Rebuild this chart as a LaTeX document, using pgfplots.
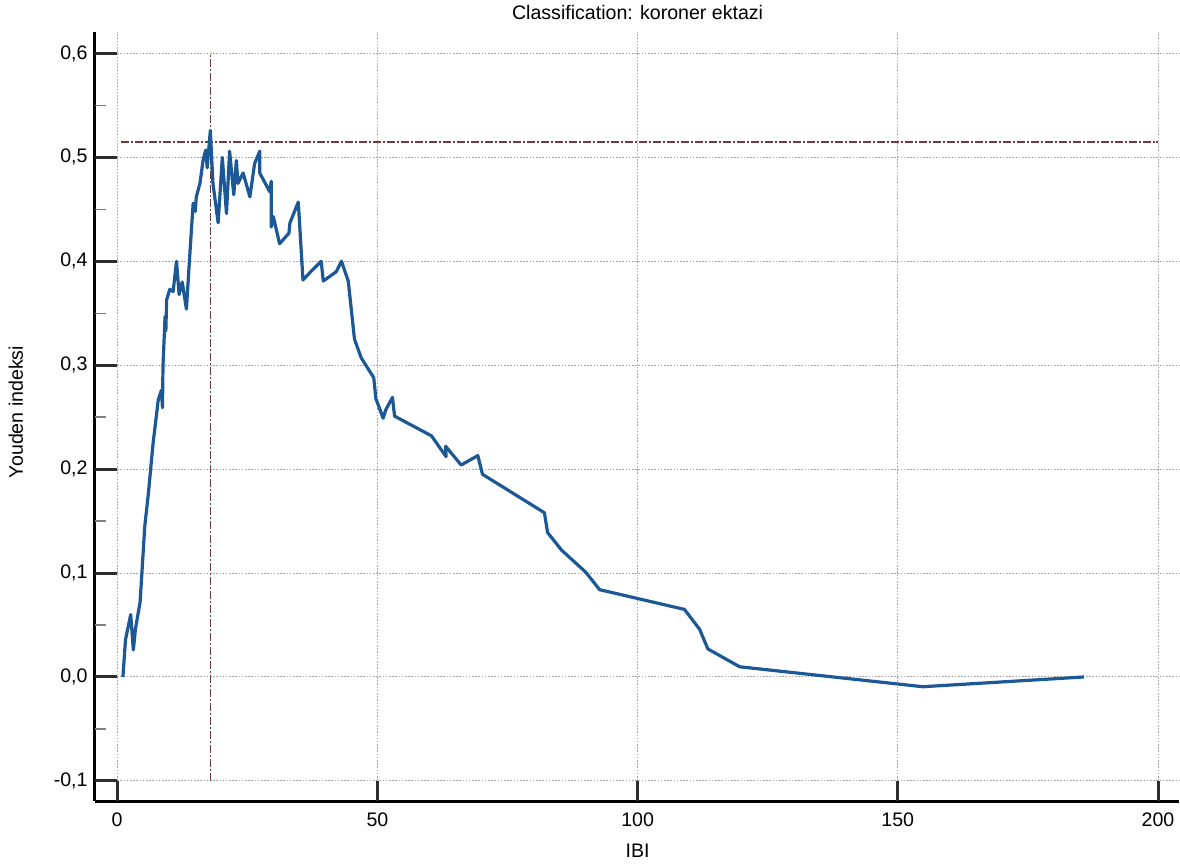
\documentclass[border=0pt]{standalone}
\usepackage{fontspec}
\setmainfont{Liberation Sans}
\usepackage{pgfplots}
\pgfplotsset{compat=1.18}
\definecolor{curve}{RGB}{28,88,150}
\definecolor{cut}{RGB}{110,60,60}
\definecolor{gridc}{RGB}{165,165,165}
\definecolor{tickc}{RGB}{45,45,45}
\begin{document}
\fontsize{9.8}{12}\selectfont
\begin{tikzpicture}
\begin{axis}[
  scale only axis, width=542.4pt, height=385pt,
  xmin=-4.28, xmax=204, ymin=-0.1194, ymax=0.621,
  axis x line*=bottom, axis y line*=left,
  axis line style={line width=1.5pt, -, black},
  xtick={0,50,100,150,200},
  ytick={-0.1,0,0.1,0.2,0.3,0.4,0.5,0.6},
  major tick length=0pt, minor tick length=0pt, tick style={draw=none},
  /pgf/number format/assume math mode=true,
  yticklabel style={/pgf/number format/.cd, use comma, fixed, fixed zerofill, precision=1, /tikz/.cd, inner sep=0pt, xshift=-3.5pt},
  xticklabel style={inner sep=0pt, yshift=-5.6pt},
  clip=false,
]
% grid
\pgfplotsinvokeforeach{0,50,100,150,200}{
  \draw[gridc, line width=0.5pt, dash pattern=on 0.8pt off 0.8pt] (axis cs:#1,-0.1) -- (axis cs:#1,0.621);
  \draw[tickc, line width=1.5pt] (axis cs:#1,-0.1194) -- (axis cs:#1,-0.1);
}
\pgfplotsinvokeforeach{-0.1,0,0.1,0.2,0.3,0.4,0.5,0.6}{
  \draw[gridc, line width=0.5pt, dash pattern=on 0.8pt off 0.8pt] (axis cs:0,#1) -- (axis cs:204,#1);
  \draw[tickc, line width=1.5pt] (axis cs:-4.28,#1) -- (axis cs:0,#1);
}
\pgfplotsinvokeforeach{-0.05,0.05,0.15,0.25,0.35,0.45,0.55}{
  \draw[gray, line width=0.7pt] (axis cs:-4.28,#1) -- (axis cs:-2.17,#1);
}
% cutoff lines
\addplot[cut, line width=0.75pt, dash pattern=on 4pt off 1pt on 1pt off 1pt] coordinates {(17.9,-0.1) (17.9,0.6)};
\addplot[cut, line width=0.75pt, dash pattern=on 4pt off 1pt on 1pt off 1pt] coordinates {(0.8,0.515) (200,0.515)};
% Youden index curve
\addplot[curve, line width=1.6pt, line join=round] coordinates {
(1.1,0) (1.6,0.036) (2.6,0.060) (3.1,0.026) (3.5,0.046) (4.4,0.072)
(5.3,0.145) (6.0,0.177) (6.9,0.225) (7.9,0.267) (8.5,0.276) (8.7,0.259)
(8.8,0.299) (9.2,0.347) (9.35,0.333) (9.5,0.363) (10.1,0.373) (10.75,0.371)
(11.4,0.400) (11.9,0.368) (12.5,0.380) (13.3,0.354) (14.0,0.410) (14.6,0.456)
(15.0,0.448) (15.2,0.462) (15.9,0.475) (16.5,0.497) (17.0,0.507) (17.3,0.490)
(17.9,0.526) (18.4,0.475) (19.4,0.437) (20.2,0.500) (21.0,0.446) (21.6,0.506)
(22.4,0.464) (22.9,0.497) (23.2,0.475) (24.2,0.485) (25.5,0.462) (26.4,0.494)
(27.4,0.506) (27.4,0.485) (29.3,0.467) (29.6,0.477) (29.6,0.433) (30.0,0.443)
(31.2,0.417) (33.0,0.427) (33.2,0.437) (34.8,0.457) (35.7,0.382) (37.0,0.389)
(39.2,0.400) (39.6,0.381) (42.1,0.390) (43.1,0.400) (44.4,0.381) (45.6,0.325)
(46.9,0.307) (49.3,0.288) (49.7,0.268) (51.1,0.249) (51.6,0.257) (52.9,0.269)
(53.3,0.251) (60.4,0.232) (63.2,0.212) (63.1,0.222) (66.1,0.204) (69.3,0.213)
(70.2,0.195) (82.1,0.158) (82.7,0.139) (85.4,0.122) (90.0,0.101) (92.7,0.084)
(109.0,0.065) (111.9,0.046) (113.5,0.027) (119.6,0.0098) (154.8,-0.0094) (185.8,0)
};
% labels
\node[anchor=base, yshift=5.85pt] at (axis cs:100,0.621) {Classification: koroner ektazi};
\node[anchor=base, yshift=-28.15pt] at (axis cs:100,-0.1194) {IBI};
\node[anchor=base, rotate=90] at ([xshift=-36pt]axis cs:-4.28,0.255) {Youden indeksi};
\end{axis}
\pgfresetboundingbox
\path[use as bounding box] ([shift={(-47.5pt,-32.65pt)}]current axis.south west) rectangle ([shift={(0.6pt,15.85pt)}]current axis.north east);
\end{tikzpicture}
\end{document}
